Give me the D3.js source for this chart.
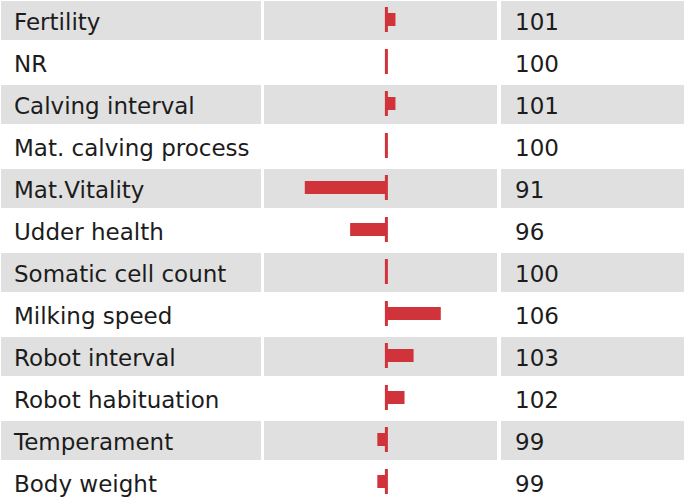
<!DOCTYPE html>
<html>
<head>
<meta charset="utf-8">
<script src="https://cdn.jsdelivr.net/npm/d3@7"></script>
<style>
  html, body { margin: 0; padding: 0; background: #ffffff; }
  svg { display: block; }
  text { font-family: "DejaVu Sans", "Noto Sans", sans-serif; font-size: 23px; fill: #1c1c1c; }
</style>
</head>
<body>
<svg id="chart" width="684" height="497"></svg>
<script>
// Trait names and breeding values (index, 100 = average)
const traits = [
  "Fertility", "NR", "Calving interval", "Mat. calving process",
  "Mat.Vitality", "Udder health", "Somatic cell count", "Milking speed",
  "Robot interval", "Robot habituation", "Temperament", "Body weight"
];
const values = [101, 100, 101, 100, 91, 96, 100, 106, 103, 102, 99, 99];
const baseline = 100;

const svg = d3.select("#chart");
const rowH = 42;

// Column extents: label | bar | value
const cols = { label: [1, 261], bar: [264, 497], value: [501, 684] };

const y = d3.scaleBand().domain(d3.range(traits.length)).range([0, rowH * traits.length]).padding(0);
const x = d3.scaleLinear().domain([86.5, 112.2]).range(cols.bar);

const rows = svg.selectAll("g.row")
  .data(traits.map((t, i) => ({ name: t, value: values[i], i })))
  .join("g")
  .attr("class", "row")
  .attr("transform", d => `translate(0,${y(d.i)})`);

// Striped cell backgrounds on every other row
rows.filter(d => d.i % 2 === 0).each(function () {
  const g = d3.select(this);
  Object.values(cols).forEach(([a, b]) => {
    g.append("rect")
      .attr("x", a).attr("y", 1)
      .attr("width", b - a).attr("height", 39)
      .attr("fill", "#e0e0e0");
  });
});

// Deviation bars from the baseline
rows.append("rect")
  .attr("x", d => Math.min(x(d.value), x(baseline)))
  .attr("y", 13)
  .attr("width", d => Math.abs(x(d.value) - x(baseline)))
  .attr("height", 13)
  .attr("fill", "#d1333b");

// Baseline marker
rows.append("rect")
  .attr("x", x(baseline) - 1.5)
  .attr("y", 7)
  .attr("width", 3)
  .attr("height", 25)
  .attr("fill", "#d1333b");

rows.append("text")
  .attr("class", "name")
  .attr("x", 14)
  .attr("y", 30)
  .text(d => d.name);

rows.append("text")
  .attr("x", 515)
  .attr("y", 30)
  .text(d => d.value);
</script>
</body>
</html>
